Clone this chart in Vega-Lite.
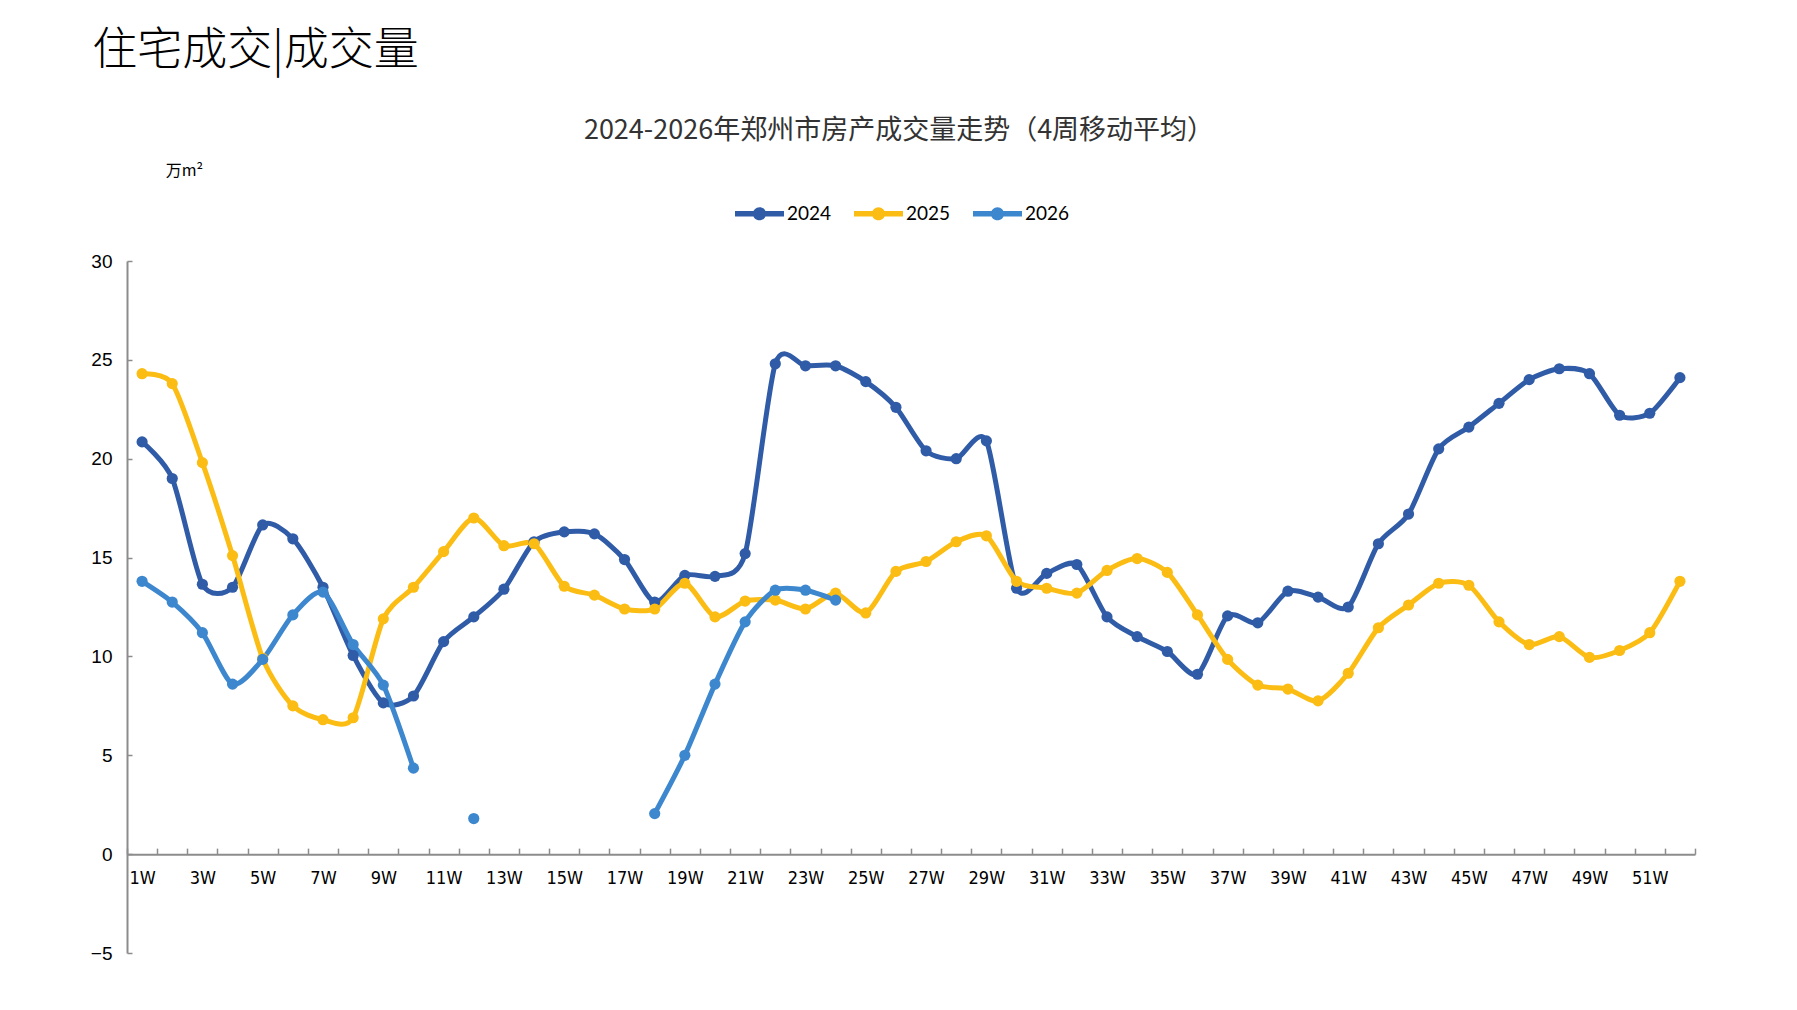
{
  "$schema": "https://vega.github.io/schema/vega-lite/v6.json",
  "background": "white",
  "padding": {"left": 90, "top": 29, "right": 5, "bottom": 5},
  "title": {"text": "住宅成交|成交量", "anchor": "start", "font": "Noto Sans CJK SC", "fontSize": 45, "fontWeight": 300, "color": "#000000", "offset": 43, "dx": 2},
  "config": {"view": {"stroke": null}},
  "vconcat": [
    {
      "width": 1568,
      "height": 692,
      "title": {"text": "2024-2026年郑州市房产成交量走势（4周移动平均）", "font": "Noto Sans CJK SC", "fontSize": 27, "fontWeight": "normal", "color": "#333333", "offset": 17, "dx": -12},
      "data": {
        "values": [
          {"week": 1, "year": "2024", "value": 20.85}, {"week": 2, "year": "2024", "value": 19.0}, {"week": 3, "year": "2024", "value": 13.65}, {"week": 4, "year": "2024", "value": 13.5}, {"week": 5, "year": "2024", "value": 16.65}, {"week": 6, "year": "2024", "value": 15.95}, {"week": 7, "year": "2024", "value": 13.5}, {"week": 8, "year": "2024", "value": 10.05}, {"week": 9, "year": "2024", "value": 7.65}, {"week": 10, "year": "2024", "value": 8.0}, {"week": 11, "year": "2024", "value": 10.75}, {"week": 12, "year": "2024", "value": 12.0}, {"week": 13, "year": "2024", "value": 13.4}, {"week": 14, "year": "2024", "value": 15.8}, {"week": 15, "year": "2024", "value": 16.3}, {"week": 16, "year": "2024", "value": 16.2}, {"week": 17, "year": "2024", "value": 14.9}, {"week": 18, "year": "2024", "value": 12.75}, {"week": 19, "year": "2024", "value": 14.1}, {"week": 20, "year": "2024", "value": 14.05}, {"week": 21, "year": "2024", "value": 15.2}, {"week": 22, "year": "2024", "value": 24.8}, {"week": 23, "year": "2024", "value": 24.7}, {"week": 24, "year": "2024", "value": 24.7}, {"week": 25, "year": "2024", "value": 23.9}, {"week": 26, "year": "2024", "value": 22.6}, {"week": 27, "year": "2024", "value": 20.4}, {"week": 28, "year": "2024", "value": 20.0}, {"week": 29, "year": "2024", "value": 20.9}, {"week": 30, "year": "2024", "value": 13.45}, {"week": 31, "year": "2024", "value": 14.2}, {"week": 32, "year": "2024", "value": 14.65}, {"week": 33, "year": "2024", "value": 12.0}, {"week": 34, "year": "2024", "value": 11.0}, {"week": 35, "year": "2024", "value": 10.25}, {"week": 36, "year": "2024", "value": 9.1}, {"week": 37, "year": "2024", "value": 12.05}, {"week": 38, "year": "2024", "value": 11.7}, {"week": 39, "year": "2024", "value": 13.3}, {"week": 40, "year": "2024", "value": 13.0}, {"week": 41, "year": "2024", "value": 12.5}, {"week": 42, "year": "2024", "value": 15.7}, {"week": 43, "year": "2024", "value": 17.2}, {"week": 44, "year": "2024", "value": 20.5}, {"week": 45, "year": "2024", "value": 21.6}, {"week": 46, "year": "2024", "value": 22.8}, {"week": 47, "year": "2024", "value": 24.0}, {"week": 48, "year": "2024", "value": 24.55}, {"week": 49, "year": "2024", "value": 24.3}, {"week": 50, "year": "2024", "value": 22.2}, {"week": 51, "year": "2024", "value": 22.3}, {"week": 52, "year": "2024", "value": 24.1},
          {"week": 1, "year": "2025", "value": 24.3}, {"week": 2, "year": "2025", "value": 23.8}, {"week": 3, "year": "2025", "value": 19.8}, {"week": 4, "year": "2025", "value": 15.1}, {"week": 5, "year": "2025", "value": 9.9}, {"week": 6, "year": "2025", "value": 7.5}, {"week": 7, "year": "2025", "value": 6.8}, {"week": 8, "year": "2025", "value": 6.9}, {"week": 9, "year": "2025", "value": 11.9}, {"week": 10, "year": "2025", "value": 13.5}, {"week": 11, "year": "2025", "value": 15.3}, {"week": 12, "year": "2025", "value": 17.0}, {"week": 13, "year": "2025", "value": 15.6}, {"week": 14, "year": "2025", "value": 15.7}, {"week": 15, "year": "2025", "value": 13.55}, {"week": 16, "year": "2025", "value": 13.1}, {"week": 17, "year": "2025", "value": 12.4}, {"week": 18, "year": "2025", "value": 12.4}, {"week": 19, "year": "2025", "value": 13.7}, {"week": 20, "year": "2025", "value": 12.0}, {"week": 21, "year": "2025", "value": 12.8}, {"week": 22, "year": "2025", "value": 12.85}, {"week": 23, "year": "2025", "value": 12.4}, {"week": 24, "year": "2025", "value": 13.2}, {"week": 25, "year": "2025", "value": 12.2}, {"week": 26, "year": "2025", "value": 14.3}, {"week": 27, "year": "2025", "value": 14.8}, {"week": 28, "year": "2025", "value": 15.8}, {"week": 29, "year": "2025", "value": 16.1}, {"week": 30, "year": "2025", "value": 13.8}, {"week": 31, "year": "2025", "value": 13.45}, {"week": 32, "year": "2025", "value": 13.2}, {"week": 33, "year": "2025", "value": 14.35}, {"week": 34, "year": "2025", "value": 14.95}, {"week": 35, "year": "2025", "value": 14.25}, {"week": 36, "year": "2025", "value": 12.1}, {"week": 37, "year": "2025", "value": 9.85}, {"week": 38, "year": "2025", "value": 8.55}, {"week": 39, "year": "2025", "value": 8.35}, {"week": 40, "year": "2025", "value": 7.75}, {"week": 41, "year": "2025", "value": 9.15}, {"week": 42, "year": "2025", "value": 11.45}, {"week": 43, "year": "2025", "value": 12.6}, {"week": 44, "year": "2025", "value": 13.7}, {"week": 45, "year": "2025", "value": 13.6}, {"week": 46, "year": "2025", "value": 11.75}, {"week": 47, "year": "2025", "value": 10.6}, {"week": 48, "year": "2025", "value": 11.0}, {"week": 49, "year": "2025", "value": 9.95}, {"week": 50, "year": "2025", "value": 10.3}, {"week": 51, "year": "2025", "value": 11.2}, {"week": 52, "year": "2025", "value": 13.8},
          {"week": 1, "year": "2026", "value": 13.8}, {"week": 2, "year": "2026", "value": 12.75}, {"week": 3, "year": "2026", "value": 11.2}, {"week": 4, "year": "2026", "value": 8.6}, {"week": 5, "year": "2026", "value": 9.85}, {"week": 6, "year": "2026", "value": 12.1}, {"week": 7, "year": "2026", "value": 13.25}, {"week": 8, "year": "2026", "value": 10.6}, {"week": 9, "year": "2026", "value": 8.55}, {"week": 10, "year": "2026", "value": 4.35}, {"week": 11, "year": "2026", "value": null}, {"week": 12, "year": "2026", "value": 1.8}, {"week": 13, "year": "2026", "value": null}, {"week": 14, "year": "2026", "value": null}, {"week": 15, "year": "2026", "value": null}, {"week": 16, "year": "2026", "value": null}, {"week": 17, "year": "2026", "value": null}, {"week": 18, "year": "2026", "value": 2.05}, {"week": 19, "year": "2026", "value": 5.0}, {"week": 20, "year": "2026", "value": 8.6}, {"week": 21, "year": "2026", "value": 11.75}, {"week": 22, "year": "2026", "value": 13.35}, {"week": 23, "year": "2026", "value": 13.35}, {"week": 24, "year": "2026", "value": 12.85}
        ]
      },
      "encoding": {
        "x": {
          "field": "week", "type": "ordinal", "bandPosition": 0.5,
          "scale": {"type": "band", "paddingInner": 0, "paddingOuter": 0},
          "axis": {"title": null, "labelExpr": "datum.value % 2 == 1 ? datum.value + 'W' : ''", "labelAngle": 0, "labelFont": "DejaVu Sans Condensed, Liberation Sans", "labelFontSize": 18, "labelColor": "#000000", "labelPadding": 21, "tickBand": "extent", "tickSize": -6, "tickColor": "#8c8c8c", "tickWidth": 1.5, "domainColor": "#8c8c8c", "domainWidth": 2, "offset": -98.86, "labelOverlap": false}
        },
        "y": {
          "field": "value", "type": "quantitative",
          "scale": {"domain": [-5, 30], "nice": false, "zero": false},
          "axis": {"title": "万m²", "titleAngle": 0, "titleX": 57, "titleY": -91, "titleAlign": "center", "titleBaseline": "middle", "titleFont": "Noto Sans CJK SC", "titleFontSize": 16, "titleFontWeight": "normal", "titleColor": "#000000", "values": [-5, 0, 5, 10, 15, 20, 25, 30], "grid": false, "labelFont": "Liberation Sans", "labelFontSize": 19, "labelColor": "#000000", "labelPadding": 20, "tickSize": -5, "tickColor": "#8c8c8c", "tickWidth": 1.5, "domainColor": "#8c8c8c", "domainWidth": 2}
        },
        "color": {
          "field": "year", "type": "nominal",
          "scale": {"domain": ["2024", "2025", "2026"], "range": ["#2F5BA7", "#FBBD14", "#3D87CE"]},
          "legend": {"title": null, "orient": "none", "legendX": 608, "legendY": -72, "direction": "horizontal", "symbolType": "M-1,-0.11H1V0.11H-1Z M0.27,0A0.27,0.27,0,1,1,-0.27,0A0.27,0.27,0,1,1,0.27,0Z", "symbolSize": 2400, "symbolStrokeWidth": 0, "symbolOpacity": 1, "labelFont": "Lato", "labelFontSize": 19, "labelColor": "#000000", "labelOffset": 3, "columnPadding": 22}
        }
      },
      "layer": [
        {"mark": {"type": "line", "interpolate": "cardinal", "tension": 0.25, "strokeWidth": 5, "strokeCap": "round", "strokeJoin": "round"}},
        {"mark": {"type": "point", "filled": true, "size": 125, "opacity": 1}}
      ]
    }
  ]
}
